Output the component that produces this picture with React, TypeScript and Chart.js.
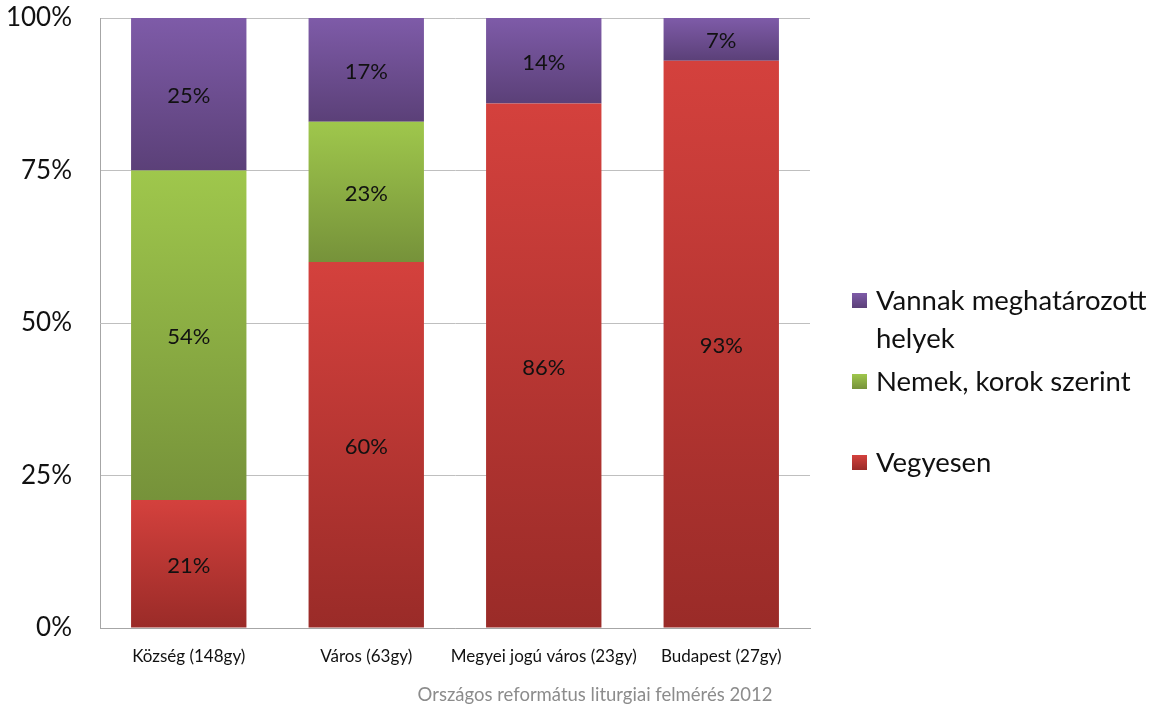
import React, { useEffect, useRef } from "react";
import { Chart, registerables } from "chart.js";

Chart.register(...registerables);

const categories = ["Község (148gy)", "Város (63gy)", "Megyei jogú város (23gy)", "Budapest (27gy)"];
const seriesNames = ["Vegyesen", "Nemek, korok szerint", "Vannak meghatározott helyek"];
const vegyesen = [21, 60, 86, 93];
const nemekKorok = [54, 23, 0, 0];
const meghatarozott = [25, 17, 14, 7];
const yTicks = [0, 25, 50, 75, 100];
const footerText = "Országos református liturgiai felmérés 2012";

const seriesValues = [vegyesen, nemekKorok, meghatarozott];
const topColors = ["#D4413D", "#9FC74C", "#7E5BA8"];
const bottomColors = ["#9A2B28", "#76923A", "#5B4078"];
const legendLines = [["Vannak meghatározott", "helyek"], ["Nemek, korok szerint"], ["Vegyesen"]];
const legendIdx = [2, 1, 0];

const FONT = "Lato, 'Noto Sans', sans-serif";

const dataLabelPlugin = {
  id: "dataLabels",
  afterDatasetsDraw(chart: any) {
    const ctx = chart.ctx;
    ctx.save();
    ctx.font = `22px ${FONT}`;
    ctx.fillStyle = "#111";
    ctx.textAlign = "center";
    ctx.textBaseline = "middle";
    chart.data.datasets.forEach((ds: any, di: number) => {
      const meta = chart.getDatasetMeta(di);
      meta.data.forEach((el: any, i: number) => {
        const v = ds.data[i];
        if (!v) return;
        const yc = (el.y + el.base) / 2 + 2;
        ctx.fillText(`${v}%`, el.x, yc);
      });
    });
    ctx.restore();
  },
};

export default function App() {
  const ref = useRef<HTMLCanvasElement>(null);
  useEffect(() => {
    if (!ref.current) return;
    const makeBg = (di: number) => (c: any) => {
      const chart = c.chart;
      const y = chart.scales?.y;
      if (!y || c.dataIndex === undefined) return topColors[di];
      let start = 0;
      for (let k = 0; k < di; k++) start += seriesValues[k][c.dataIndex];
      const end = start + seriesValues[di][c.dataIndex];
      const top = y.getPixelForValue(end);
      const bot = y.getPixelForValue(start);
      if (!isFinite(top) || !isFinite(bot) || top === bot) return topColors[di];
      const g = chart.ctx.createLinearGradient(0, top, 0, bot);
      g.addColorStop(0, topColors[di]);
      g.addColorStop(1, bottomColors[di]);
      return g;
    };
    const chart = new Chart(ref.current, {
      type: "bar",
      data: {
        labels: categories,
        datasets: seriesNames.map((name, di) => ({
          label: name,
          data: seriesValues[di],
          backgroundColor: makeBg(di),
          borderWidth: 0,
          categoryPercentage: 1,
          barPercentage: 0.65,
        })),
      },
      options: {
        animation: false,
        responsive: false,
        layout: { padding: { top: 18, right: 347, bottom: 18, left: 0 } },
        plugins: { legend: { display: false }, tooltip: { enabled: false } },
        scales: {
          x: {
            stacked: true,
            grid: { display: false },
            border: { color: "#A6A6A6", width: 1 },
            ticks: { font: { family: FONT, size: 17 }, color: "#111", padding: 10, maxRotation: 0, autoSkip: false },
            afterFit: (s: any) => { s.height = 60; },
          },
          y: {
            stacked: true,
            min: 0,
            max: 100,
            afterBuildTicks: (s: any) => { s.ticks = yTicks.map((v) => ({ value: v })); },
            grid: { color: "#BFBFBF", drawTicks: false },
            border: { color: "#A6A6A6", width: 1 },
            ticks: {
              font: { family: FONT, size: 26 },
              color: "#111",
              padding: 28,
              callback: (v: any) => `${v}%`,
            },
            afterFit: (s: any) => { s.width = 100; s.paddingTop = 0; s.paddingBottom = 0; },
          },
        },
      },
      plugins: [dataLabelPlugin],
    } as any);
    return () => chart.destroy();
  }, []);

  return (
    <div style={{ position: "absolute", left: 0, top: 0, width: 1157, height: 706, background: "#fff", fontFamily: FONT }}>
      <canvas ref={ref} width={1157} height={706} style={{ position: "absolute", left: 0, top: 0 }} />
      <div style={{ position: "absolute", left: 852, top: 281, width: 305 }}>
        {legendIdx.map((di, j) => (
          <div key={di} style={{ position: "absolute", left: 0, top: [0, 81, 162][j], display: "flex", alignItems: "flex-start" }}>
            <div style={{ width: 15, height: 15, marginTop: 12, marginRight: 9, background: `linear-gradient(${topColors[di]}, ${bottomColors[di]})` }} />
            <div style={{ fontSize: 27.5, lineHeight: "38px", color: "#111", whiteSpace: "nowrap" }}>
              {legendLines[j].map((l, k) => (<div key={k}>{l}</div>))}
            </div>
          </div>
        ))}
      </div>
      <div style={{ position: "absolute", left: 345, width: 500, top: 683, textAlign: "center", fontSize: 18.5, color: "#8C8C8C" }}>
        {footerText}
      </div>
    </div>
  );
}
